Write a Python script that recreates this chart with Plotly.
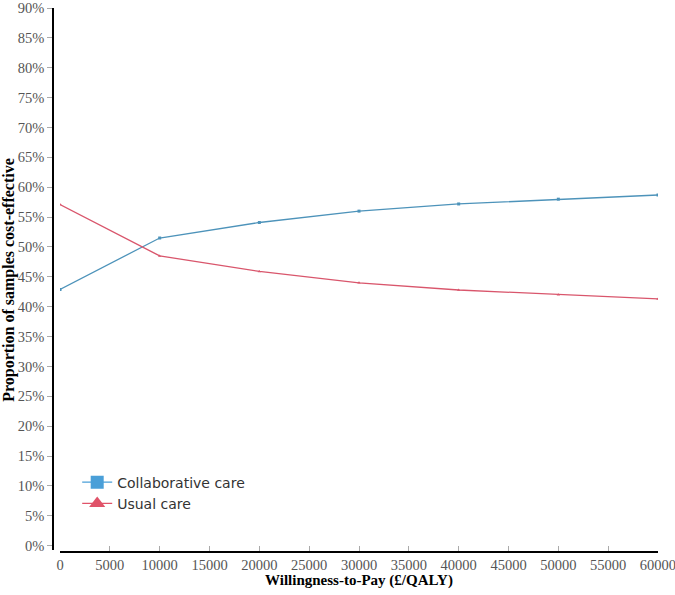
import plotly.graph_objects as go

# willingness-to-pay thresholds (GBP per QALY)
wtp = [0, 10000, 20000, 30000, 40000, 50000, 60000]

# proportion of samples cost-effective (%)
collab_care = [42.9, 51.5, 54.1, 56.0, 57.2, 58.0, 58.7]
usual_care = [57.1, 48.5, 45.9, 44.0, 42.8, 42.0, 41.3]

x_ticks = list(range(0, 60001, 5000))
y_ticks = list(range(0, 91, 5))

BLUE = "#4a9fd8"
RED = "#e05369"
SERIF = "Liberation Serif, Times New Roman, serif"

fig = go.Figure()

# data lines (tiny point markers)
fig.add_trace(go.Scatter(
    x=wtp, y=collab_care, mode="lines+markers",
    line=dict(color="#4d93ba", width=1.3),
    marker=dict(symbol="square", size=3, color="#4d93ba"),
    showlegend=False, hoverinfo="x+y"
))
fig.add_trace(go.Scatter(
    x=wtp, y=usual_care, mode="lines+markers",
    line=dict(color="#d9566c", width=1.3),
    marker=dict(symbol="triangle-up", size=3, color="#d9566c"),
    showlegend=False, hoverinfo="x+y"
))

# legend-only entries with large symbols
fig.add_trace(go.Scatter(
    x=[None], y=[None], mode="lines+markers", name="Collaborative care",
    line=dict(color=BLUE, width=1.3),
    marker=dict(symbol="square", size=13, color=BLUE)
))
fig.add_trace(go.Scatter(
    x=[None], y=[None], mode="lines+markers", name="Usual care",
    line=dict(color=RED, width=1.3),
    marker=dict(symbol="triangle-up", size=14, color=RED)
))

fig.update_layout(
    width=675, height=595,
    margin=dict(l=53, r=17, t=8, b=43),
    paper_bgcolor="white",
    plot_bgcolor="white",
    showlegend=True,
    legend=dict(
        x=0.04, y=0.157, xanchor="left", yanchor="top",
        font=dict(family="DejaVu Sans, Verdana, sans-serif", size=14, color="#333333"),
        bgcolor="rgba(0,0,0,0)",
        itemclick=False, itemdoubleclick=False
    ),
    xaxis=dict(
        domain=[0.0116, 1.0],
        range=[0, 60000],
        tickvals=x_ticks,
        ticktext=[str(v) for v in x_ticks],
        ticks="inside", ticklen=5, tickcolor="#aaaaaa",
        showline=True, linecolor="black", linewidth=1.5,
        showgrid=False, zeroline=False,
        anchor="free", position=0, automargin=False,
        ticklabeloverflow="allow",
        tickfont=dict(family=SERIF, size=14.5, color="#555555"),
    ),
    yaxis=dict(
        domain=[0.0037, 1.0],
        range=[-0.72, 90],
        tickvals=y_ticks,
        ticktext=[f"{v}%" for v in y_ticks],
        ticks="outside", ticklen=5, tickcolor="#aaaaaa",
        showline=True, linecolor="black", linewidth=1.5,
        showgrid=False, zeroline=False,
        anchor="free", position=0, automargin=False,
        ticklabeloverflow="allow",
        tickfont=dict(family=SERIF, size=14.5, color="#555555"),
    ),
    annotations=[
        dict(text="<b>Willingness-to-Pay (£/QALY)</b>", xref="paper", yref="paper",
             x=0.505, y=-0.0515, xanchor="center", yanchor="middle", showarrow=False,
             font=dict(family=SERIF, size=15, color="black")),
        dict(text="<b>Proportion of samples cost-effective</b>", xref="paper", yref="paper",
             x=-0.073, y=0.5, xanchor="center", yanchor="middle", showarrow=False,
             textangle=-90, font=dict(family=SERIF, size=16, color="black")),
    ],
)

# the page's default body margin would push the figure 8px off
fig.write_html("out.html", config={"displayModeBar": False},
               post_script="document.body.style.margin='0px';")
